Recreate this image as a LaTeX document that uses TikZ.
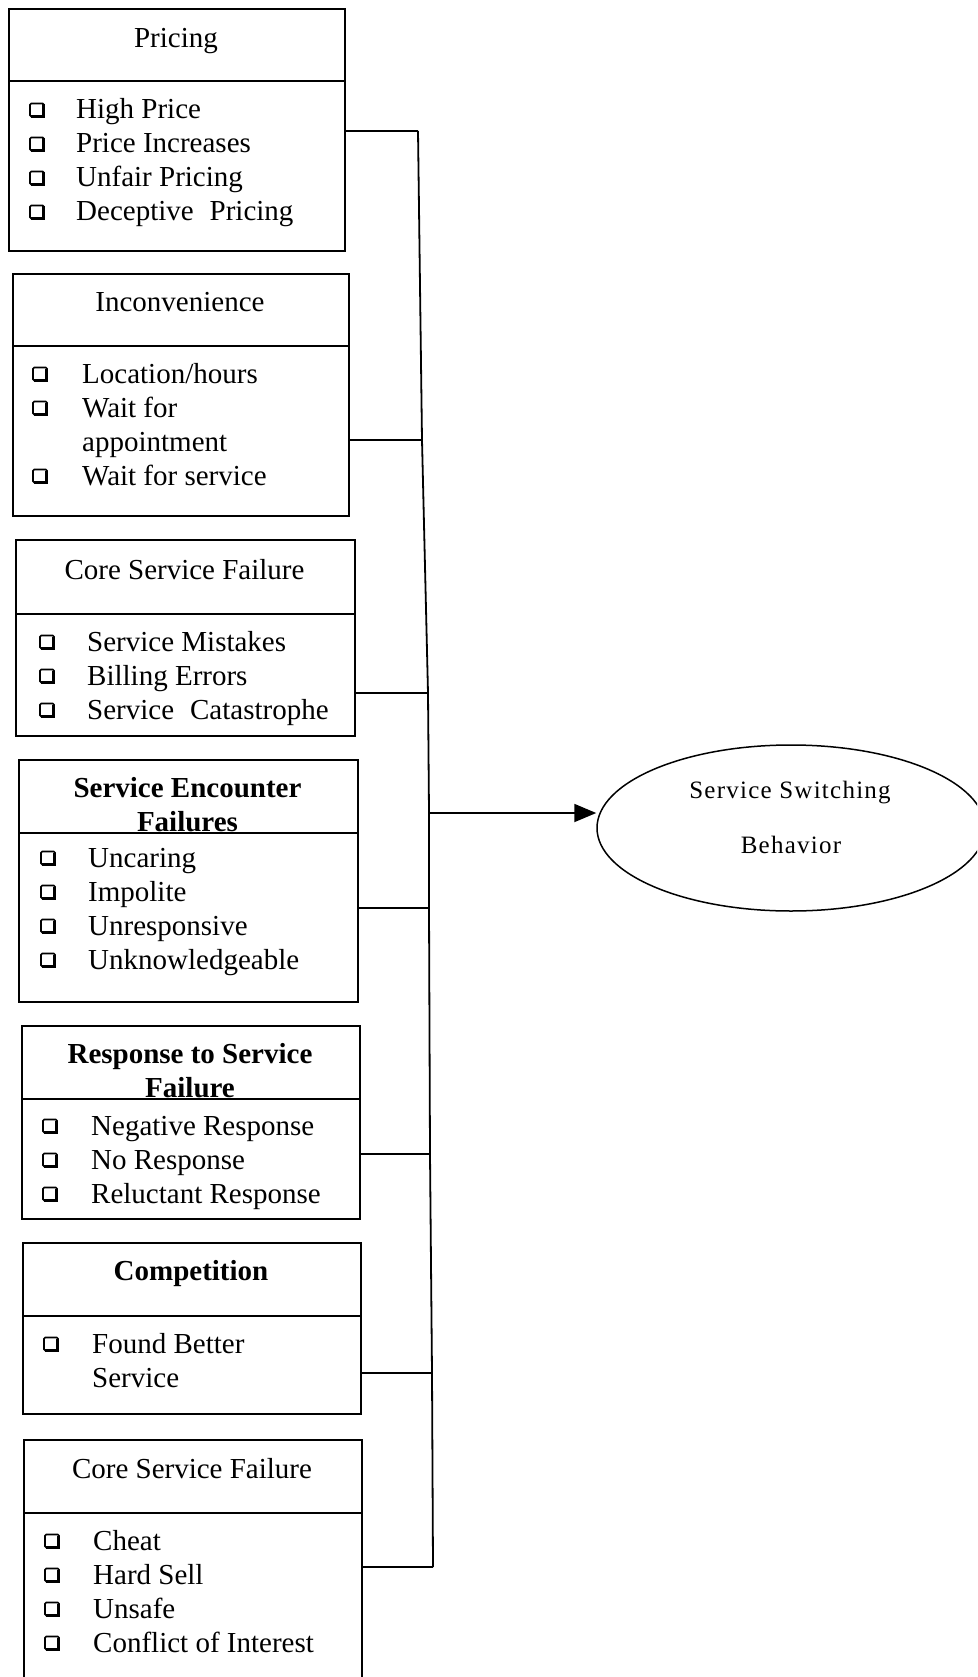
\documentclass[tikz,border=0pt]{standalone}
\usepackage{fontspec}
\setmainfont{Liberation Serif}
\newfontfamily\ovalfont[LetterSpace=5]{Liberation Serif}
\usetikzlibrary{shapes.geometric,arrows.meta}
\begin{document}
\begin{tikzpicture}[x=1pt,y=-1pt,
  frame/.style={draw, line width=1.8pt, fill=white, inner sep=0pt, anchor=north west},
  headtxt/.style={anchor=base, inner sep=0pt, font=\fontsize{29}{34}\selectfont},
  headbold/.style={anchor=base, inner sep=0pt, font=\fontsize{29}{34}\selectfont\bfseries},
  itemtxt/.style={anchor=base west, inner sep=0pt, font=\fontsize{29}{34}\selectfont},
  ovaltxt/.style={anchor=base, inner sep=0pt, font=\ovalfont\fontsize{25}{30}\selectfont},
  link/.style={line width=1.8pt},
  chk/.pic={
    \draw[line width=1.6pt, rounded corners=1.2pt] (-7,-6.5) rectangle (7,6.5);
    \draw[line width=2.8pt] (-6,6.5) -- (6.5,6.5) -- (6.5,-5.5);
  }]
\useasboundingbox (0,0) rectangle (977,1677);
\clip (0,0) rectangle (977,1677);

% ---- Pricing ----
\node[frame, minimum width=336, minimum height=72] (p-head) at (8,8) {};
\node[headtxt] (p-title) at (176,48) {Pricing};
\node[frame, minimum width=336, minimum height=170] (p-body) at (8,80) {};
\pic at (37,110) {chk}; \node[itemtxt] (p-i1) at (76,119) {High Price};
\pic at (37,144) {chk}; \node[itemtxt] (p-i2) at (76,153) {Price Increases};
\pic at (37,178) {chk}; \node[itemtxt] (p-i3) at (76,187) {Unfair Pricing};
\pic at (37,212) {chk}; \node[itemtxt] (p-i4) at (76,221) {Deceptive\hspace{0.3em} Pricing};

% ---- Inconvenience ----
\node[frame, minimum width=336, minimum height=72] (c-head) at (12,273) {};
\node[headtxt] (c-title) at (180,312) {Inconvenience};
\node[frame, minimum width=336, minimum height=170] (c-body) at (12,345) {};
\pic at (40,374) {chk}; \node[itemtxt] (c-i1) at (82,383) {Location/hours};
\pic at (40,408) {chk}; \node[itemtxt] (c-i2) at (82,417) {Wait for};
\node[itemtxt] (c-i2b) at (82,451) {appointment};
\pic at (40,476) {chk}; \node[itemtxt] (c-i3) at (82,485) {Wait for service};

% ---- Core Service Failure ----
\node[frame, minimum width=339, minimum height=74] (f-head) at (15,539) {};
\node[headtxt] (f-title) at (184.5,579) {Core Service Failure};
\node[frame, minimum width=339, minimum height=122] (f-body) at (15,613) {};
\pic at (47,642) {chk}; \node[itemtxt] (f-i1) at (87,651) {Service Mistakes};
\pic at (47,676) {chk}; \node[itemtxt] (f-i2) at (87,685) {Billing Errors};
\pic at (47,710) {chk}; \node[itemtxt] (f-i3) at (87,719) {Service\hspace{0.3em} Catastrophe};

% ---- Service Encounter Failures ----
\node[frame, minimum width=339, minimum height=73] (e-head) at (18,759) {};
\node[headbold] (e-title1) at (187.5,797) {Service Encounter};
\node[headbold] (e-title2) at (187.5,831) {Failures};
\node[frame, minimum width=339, minimum height=169] (e-body) at (18,832) {};
\pic at (48,858) {chk}; \node[itemtxt] (e-i1) at (88,867) {Uncaring};
\pic at (48,892) {chk}; \node[itemtxt] (e-i2) at (88,901) {Impolite};
\pic at (48,926) {chk}; \node[itemtxt] (e-i3) at (88,935) {Unresponsive};
\pic at (48,960) {chk}; \node[itemtxt] (e-i4) at (88,969) {Unknowledgeable};

% ---- Response to Service Failure ----
\node[frame, minimum width=338, minimum height=73] (r-head) at (21,1025) {};
\node[headbold] (r-title1) at (190,1063) {Response to Service};
\node[headbold] (r-title2) at (190,1097) {Failure};
\node[frame, minimum width=338, minimum height=120] (r-body) at (21,1098) {};
\pic at (50,1126) {chk}; \node[itemtxt] (r-i1) at (91,1135) {Negative Response};
\pic at (50,1160) {chk}; \node[itemtxt] (r-i2) at (91,1169) {No Response};
\pic at (50,1194) {chk}; \node[itemtxt] (r-i3) at (91,1203) {Reluctant Response};

% ---- Competition ----
\node[frame, minimum width=338, minimum height=73] (m-head) at (22,1242) {};
\node[headbold] (m-title) at (191,1280) {Competition};
\node[frame, minimum width=338, minimum height=98] (m-body) at (22,1315) {};
\pic at (51,1344) {chk}; \node[itemtxt] (m-i1) at (92,1353) {Found Better};
\node[itemtxt] (m-i1b) at (92,1387) {Service};

% ---- Core Service Failure (ethical) ----
\node[frame, minimum width=338, minimum height=73] (g-head) at (23,1439) {};
\node[headtxt] (g-title) at (192,1478) {Core Service Failure};
\node[frame, minimum width=338, minimum height=200] (g-body) at (23,1512) {};
\pic at (52,1541) {chk}; \node[itemtxt] (g-i1) at (93,1550) {Cheat};
\pic at (52,1575) {chk}; \node[itemtxt] (g-i2) at (93,1584) {Hard Sell};
\pic at (52,1609) {chk}; \node[itemtxt] (g-i3) at (93,1618) {Unsafe};
\pic at (52,1643) {chk}; \node[itemtxt] (g-i4) at (93,1652) {Conflict of Interest};

% ---- Outcome ----
\node[draw, ellipse, line width=1.5pt, minimum width=388, minimum height=166, inner sep=0pt] (ssb) at (791,828) {};
\node[ovaltxt] (ssb-l1) at (790,798) {Service Switching};
\node[ovaltxt] (ssb-l2) at (791,853) {Behavior};

% ---- Collector line ----
\coordinate (t1) at (418,131);
\coordinate (t2) at (422,440);
\coordinate (t3) at (428,693);
\coordinate (ta) at (429,813);
\coordinate (t4) at (429,908);
\coordinate (t5) at (430,1154);
\coordinate (t6) at (432,1373);
\coordinate (t7) at (433,1567);
\draw[link] (t1) -- (t2) -- (t3) -- (ta) -- (t4) -- (t5) -- (t6) -- (t7);
\draw[link] (p-body.east |- t1) -- (t1);
\draw[link] (c-body.east |- t2) -- (t2);
\draw[link] (f-body.east |- t3) -- (t3);
\draw[link] (e-body.east |- t4) -- (t4);
\draw[link] (r-body.east |- t5) -- (t5);
\draw[link] (m-body.east |- t6) -- (t6);
\draw[link] (g-body.east |- t7) -- (t7);
\draw[link, -{Triangle[length=22pt,width=18pt]}] (ta) -- (ta -| ssb.west);
\end{tikzpicture}
\end{document}
